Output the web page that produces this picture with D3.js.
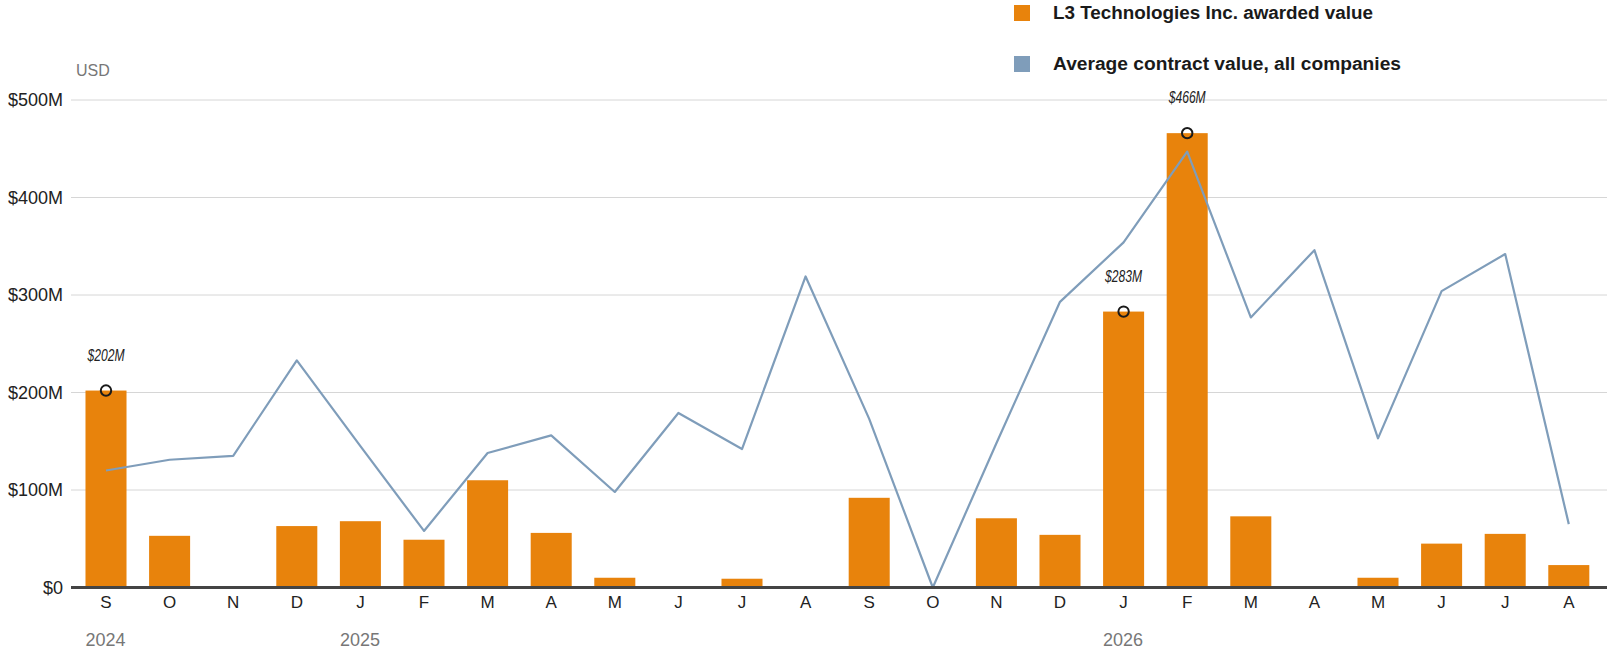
<!DOCTYPE html>
<html>
<head>
<meta charset="UTF-8">
<title>L3 Technologies awarded value</title>
<script src="https://cdn.jsdelivr.net/npm/d3@7"></script>
<style>
  body { margin: 0; background: #fff; }
  text { font-family: "Liberation Sans", Arial, sans-serif; }
</style>
</head>
<body>
<script>
// months Sep 2024 .. Aug 2026
var months = ["S","O","N","D","J","F","M","A","M","J","J","A","S","O","N","D","J","F","M","A","M","J","J","A"];
var years = [{i: 0, label: "2024"}, {i: 4, label: "2025"}, {i: 16, label: "2026"}];
// millions of USD
var awarded = [202, 53, 0, 63, 68, 49, 110, 56, 10, 0, 9, 0, 92, 0, 71, 54, 283, 466, 73, 0, 10, 45, 55, 23];
var average = [120, 131, 135, 233, 145, 58, 138, 156, 98, 179, 142, 319, 173, 0, 148, 293, 354, 447, 277, 346, 153, 304, 342, 65];
var highlighted = [0, 16, 17];
var yTicks = [0, 100, 200, 300, 400, 500];

var W = 1610, H = 656;
var svg = d3.select("body").append("svg")
    .attr("width", W)
    .attr("height", H);

var idx = d3.range(months.length);
var x = d3.scaleBand()
    .domain(idx)
    .range([74.2, 1600.6])
    .paddingInner(0.355)
    .paddingOuter(0.1775);
var y = d3.scaleLinear()
    .domain([0, 500])
    .range([587.5, 100]);

// gridlines
svg.selectAll("line.grid")
    .data(yTicks.slice(1))
    .enter()
    .append("line")
    .attr("class", "grid")
    .attr("x1", 71).attr("x2", 1607)
    .attr("y1", function (d) { return y(d); })
    .attr("y2", function (d) { return y(d); })
    .attr("stroke", "#d6d6d6")
    .attr("stroke-width", 1);

// y labels
svg.selectAll("text.ylab")
    .data(yTicks)
    .enter()
    .append("text")
    .attr("class", "ylab")
    .attr("x", 63)
    .attr("y", function (d) { return y(d); })
    .attr("dy", "0.35em")
    .attr("text-anchor", "end")
    .attr("font-size", 18)
    .attr("fill", "#222")
    .text(function (d) { return "$" + d + (d ? "M" : ""); });

svg.append("text")
    .attr("x", 76).attr("y", 76)
    .attr("font-size", 16)
    .attr("fill", "#777")
    .text("USD");

// bars
svg.selectAll("rect.bar")
    .data(awarded)
    .enter()
    .append("rect")
    .attr("class", "bar")
    .attr("x", function (d, i) { return x(i); })
    .attr("y", function (d) { return y(d); })
    .attr("width", x.bandwidth())
    .attr("height", function (d) { return y(0) - y(d); })
    .attr("fill", "#E8830C");

// average line
var line = d3.line()
    .x(function (d, i) { return x(i) + x.bandwidth() / 2; })
    .y(function (d) { return y(d); });
svg.append("path")
    .datum(average)
    .attr("d", line)
    .attr("fill", "none")
    .attr("stroke", "#7F9DBA")
    .attr("stroke-width", 2.2)
    .attr("stroke-linejoin", "round");

// baseline
svg.append("line")
    .attr("x1", 71).attr("x2", 1607)
    .attr("y1", y(0)).attr("y2", y(0))
    .attr("stroke", "#444")
    .attr("stroke-width", 3);

// highlighted points
var hl = svg.selectAll("g.hl")
    .data(highlighted)
    .enter()
    .append("g")
    .attr("class", "hl");
hl.append("circle")
    .attr("cx", function (i) { return x(i) + x.bandwidth() / 2; })
    .attr("cy", function (i) { return y(awarded[i]); })
    .attr("r", 5.2)
    .attr("fill", "none")
    .attr("stroke", "#1a1a1a")
    .attr("stroke-width", 2);
hl.append("text")
    .attr("x", function (i) { return x(i) + x.bandwidth() / 2; })
    .attr("y", function (i) { return y(awarded[i]) - 30; })
    .attr("text-anchor", "middle")
    .attr("font-size", 16)
    .attr("font-style", "italic")
    .attr("fill", "#222")
    .attr("textLength", 37)
    .attr("lengthAdjust", "spacingAndGlyphs")
    .text(function (i) { return "$" + awarded[i] + "M"; });

// x labels
svg.selectAll("text.xlab")
    .data(months)
    .enter()
    .append("text")
    .attr("class", "xlab")
    .attr("x", function (d, i) { return x(i) + x.bandwidth() / 2; })
    .attr("y", 608)
    .attr("text-anchor", "middle")
    .attr("font-size", 17)
    .attr("fill", "#222")
    .text(function (d) { return d; });

svg.selectAll("text.year")
    .data(years)
    .enter()
    .append("text")
    .attr("class", "year")
    .attr("x", function (d) { return x(d.i); })
    .attr("y", 646)
    .attr("font-size", 18)
    .attr("fill", "#777")
    .text(function (d) { return d.label; });

// legend
var legend = [
    {label: "L3 Technologies Inc. awarded value", color: "#E8830C", w: 320},
    {label: "Average contract value, all companies", color: "#7F9DBA", w: 348}
];
var lg = svg.selectAll("g.legend")
    .data(legend)
    .enter()
    .append("g")
    .attr("class", "legend")
    .attr("transform", function (d, i) { return "translate(1014," + (5 + i * 51) + ")"; });
lg.append("rect")
    .attr("width", 16).attr("height", 16)
    .attr("fill", function (d) { return d.color; });
lg.append("text")
    .attr("x", 39).attr("y", 14)
    .attr("font-size", 18)
    .attr("font-weight", "bold")
    .attr("fill", "#1a1a1a")
    .attr("textLength", function (d) { return d.w; })
    .attr("lengthAdjust", "spacingAndGlyphs")
    .text(function (d) { return d.label; });
</script>
</body>
</html>
